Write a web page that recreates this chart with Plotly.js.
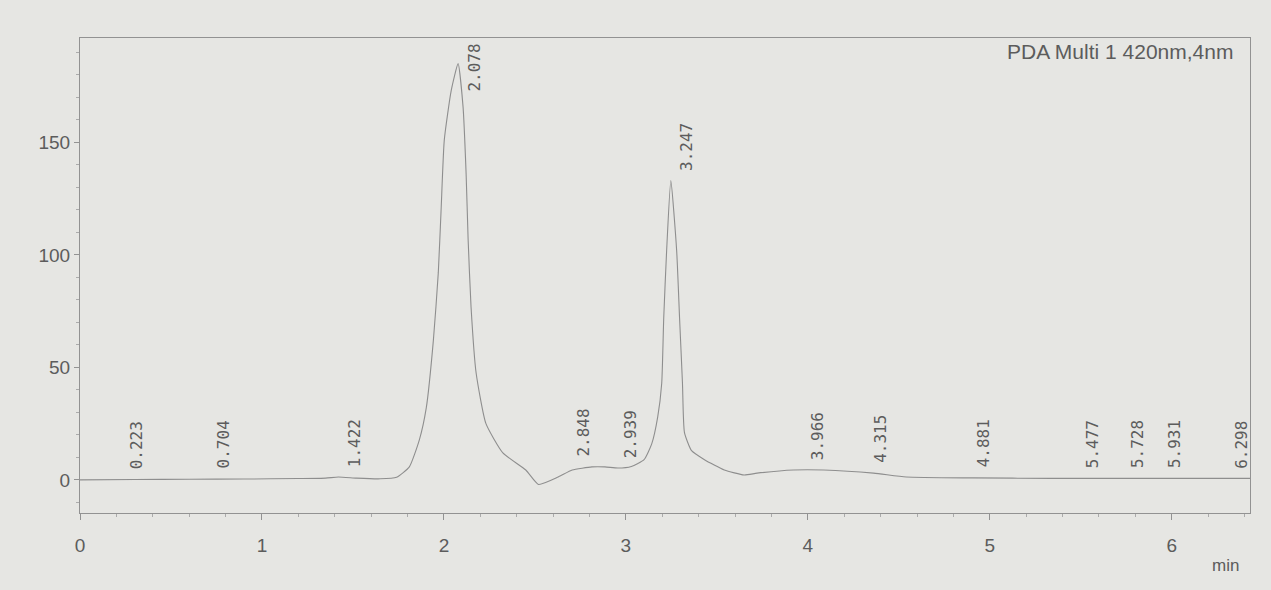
<!DOCTYPE html>
<html>
<head>
<meta charset="utf-8">
<script src="https://cdn.plot.ly/plotly-3.0.1.min.js"></script>
<style>
  html, body { margin: 0; padding: 0; background: #e6e6e3; }
  #chart { width: 1271px; height: 590px; }
</style>
</head>
<body>
<div id="chart"></div>
<script>
// Chromatogram trace: retention time (min) and signal (mAU)
const timeMin = [
  0.00, 0.30, 0.60, 0.90, 1.20, 1.35, 1.42, 1.52, 1.65, 1.74,
  1.81, 1.865, 1.903, 1.942, 1.969, 1.985, 2.002, 2.040, 2.078, 2.105,
  2.122, 2.133, 2.149, 2.177, 2.231, 2.324, 2.45, 2.52, 2.628, 2.705,
  2.814, 2.885, 2.956, 3.03, 3.10, 3.142, 3.175, 3.197, 3.208, 3.224,
  3.247, 3.279, 3.295, 3.311, 3.322, 3.361, 3.432, 3.541, 3.650, 3.721,
  3.92, 4.087, 4.361, 4.541, 4.907, 5.34, 5.89, 6.43
];
const signal = [
  0.0, 0.2, 0.3, 0.4, 0.6, 0.8, 1.3, 0.8, 0.5, 1.2,
  5.8, 17.8, 32, 62, 92, 121, 151, 173, 185, 166,
  136, 107, 77, 47.5, 25, 12, 4.4, -2.0, 1.3, 4.4,
  5.8, 5.8, 5.3, 6.0, 9.0, 16, 28, 43, 72, 102,
  133, 102, 72, 43, 21, 13, 9, 4.4, 2.2, 3.0,
  4.4, 4.4, 3.0, 1.3, 0.9, 0.7, 0.7, 0.7
];

// Peak annotations: retention times and the peak heights
const peakLabels = ["0.223", "0.704", "1.422", "2.078", "2.848", "2.939", "3.247",
                    "3.966", "4.315", "4.881", "5.477", "5.728", "5.931", "6.298"];
const peakTimes = [0.223, 0.704, 1.422, 2.078, 2.848, 2.939, 3.247,
                   3.966, 4.315, 4.881, 5.477, 5.728, 5.931, 6.298];
const peakHeights = [0.3, 0.5, 1.3, 185, 5.8, 5.3, 133,
                     4.4, 3.0, 1.0, 0.8, 0.7, 0.7, 0.7];

const xTicks = [0, 1, 2, 3, 4, 5, 6];
const yTicks = [0, 50, 100, 150];
const channelText = "PDA Multi 1 420nm,4nm";
const xUnit = "min";

const yRange = [-14.7, 196.4];
const textColor = "#5c5c5c";
const axisColor = "#929292";

const annotations = peakLabels.map((lab, i) => {
  const h = peakHeights[i];
  const tooHigh = h > 150;
  // move a label left when the next peak is too close (as the integrator did)
  const crowded = i < peakTimes.length - 1 && (peakTimes[i + 1] - peakTimes[i]) < 0.15;
  return {
    x: peakTimes[i], xref: "x",
    y: tooHigh ? yRange[1] : h, yref: "y",
    text: lab, showarrow: false, textangle: -90,
    xanchor: "left", yanchor: tooHigh ? "top" : "bottom",
    xshift: crowded ? -26 : 4, yshift: tooHigh ? -4 : 8,
    font: { family: "DejaVu Sans Mono, monospace", size: 16, color: textColor }
  };
});
annotations.push({
  xref: "paper", yref: "paper", x: 0.987, y: 1, xanchor: "right", yanchor: "top",
  yshift: 0, text: channelText, showarrow: false,
  font: { family: "Liberation Sans, Arial, sans-serif", size: 21, color: textColor }
});
annotations.push({
  xref: "paper", yref: "paper", x: 0.992, y: -0.11, xanchor: "right", yanchor: "middle",
  text: xUnit, showarrow: false,
  font: { family: "Liberation Sans, Arial, sans-serif", size: 17, color: textColor }
});

const trace = {
  x: timeMin, y: signal, type: "scatter", mode: "lines",
  line: { color: "#8e8e8e", width: 1.1, shape: "spline", smoothing: 0.5 },
  hoverinfo: "x+y"
};

const layout = {
  width: 1271, height: 590,
  margin: { l: 80, r: 21, t: 38, b: 77 },
  paper_bgcolor: "#e6e6e3", plot_bgcolor: "#e6e6e3",
  showlegend: false,
  xaxis: {
    range: [0, 6.43], tickvals: xTicks, ticktext: xTicks.map(String),
    showgrid: false, zeroline: false, showline: true, mirror: true,
    linecolor: axisColor, linewidth: 1,
    ticks: "outside", ticklen: 6, tickcolor: axisColor,
    minor: { dtick: 0.2, ticks: "outside", ticklen: 3, tickcolor: "#ababab" },
    ticklabelstandoff: 9,
    tickfont: { family: "Liberation Sans, Arial, sans-serif", size: 19, color: textColor }
  },
  yaxis: {
    range: yRange, tickvals: yTicks, ticktext: yTicks.map(String),
    showgrid: false, zeroline: false, showline: true, mirror: true,
    linecolor: axisColor, linewidth: 1,
    ticks: "outside", ticklen: 5, tickcolor: axisColor,
    minor: { dtick: 10, ticks: "outside", ticklen: 3, tickcolor: "#ababab" },
    tickfont: { family: "Liberation Sans, Arial, sans-serif", size: 19, color: textColor }
  },
  annotations: annotations
};

Plotly.newPlot("chart", [trace], layout, { displayModeBar: false, staticPlot: true });
</script>
</body>
</html>
